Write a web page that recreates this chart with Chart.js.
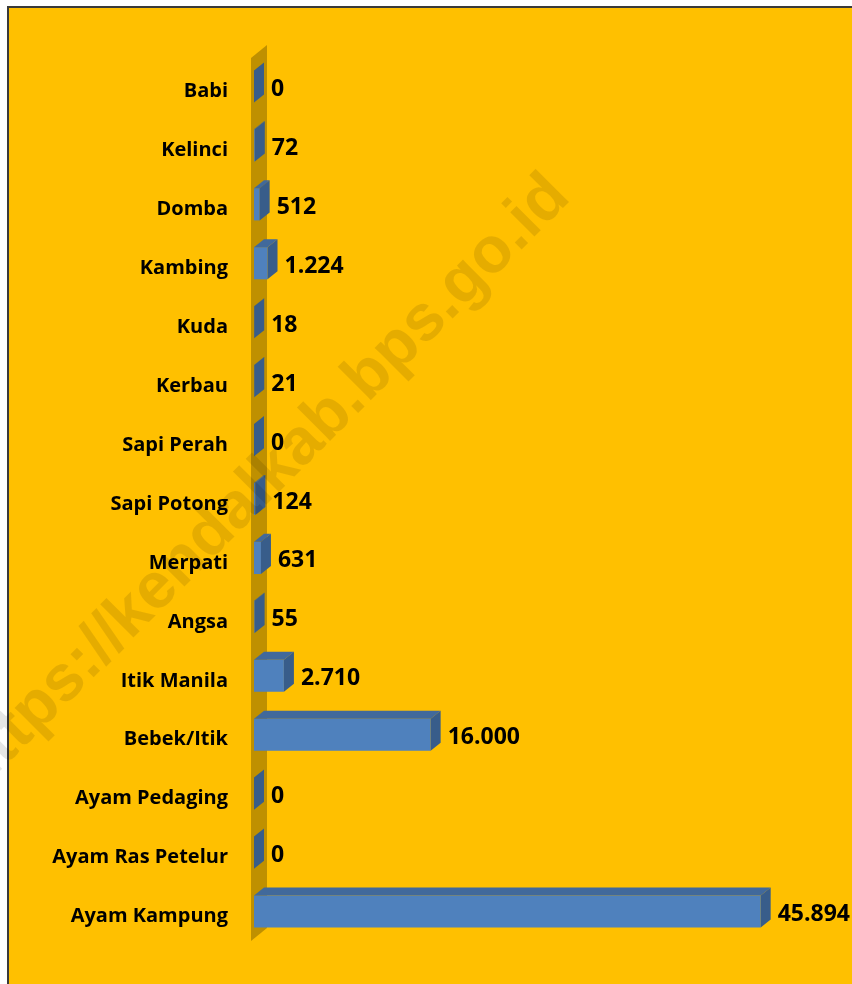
<!DOCTYPE html>
<html>
<head>
<meta charset="utf-8">
<script src="https://cdn.jsdelivr.net/npm/chart.js@4/dist/chart.umd.min.js"></script>
<style>
  html, body { margin: 0; padding: 0; background: #fff; }
  #wrap { width: 852px; height: 984px; }
</style>
</head>
<body>
<div id="wrap"><canvas id="mychart" width="852" height="984"></canvas></div>
<script>
const categories = [
  'Babi', 'Kelinci', 'Domba', 'Kambing', 'Kuda', 'Kerbau', 'Sapi Perah',
  'Sapi Potong', 'Merpati', 'Angsa', 'Itik Manila', 'Bebek/Itik',
  'Ayam Pedaging', 'Ayam Ras Petelur', 'Ayam Kampung'
]
const populasi = [0, 72, 512, 1224, 18, 21, 0, 124, 631, 55, 2710, 16000, 0, 0, 45894]
const watermark = 'https://kendalkab.bps.go.id'

const orange = '#FFC000'
const wallColor = '#BF9000'
const frontColor = '#4F81BD'
const topColor = '#41699B'
const sideColor = '#385D8A'
const depth = { x: 10, y: -8 }

const fmt = (v) => String(v).replace(/\B(?=(\d{3})+(?!\d))/g, '.')

const backgroundPlugin = {
  id: 'background',
  beforeDraw(chart) {
    const { ctx, width, height } = chart
    ctx.save()
    ctx.fillStyle = '#fff'
    ctx.fillRect(0, 0, width, height)
    ctx.fillStyle = '#3a3a3a'
    ctx.fillRect(7, 6, width, height)
    ctx.fillStyle = orange
    ctx.fillRect(9, 8, width, height)
    ctx.restore()
  },
  beforeDatasetsDraw(chart) {
    // side wall behind the bars
    const { ctx, chartArea } = chart
    const l = chartArea.left - 3
    ctx.save()
    ctx.fillStyle = wallColor
    ctx.beginPath()
    ctx.moveTo(l, chartArea.top + 1)
    ctx.lineTo(l + 16, chartArea.top - 12)
    ctx.lineTo(l + 16, chartArea.bottom - 13)
    ctx.lineTo(l, chartArea.bottom)
    ctx.closePath()
    ctx.fill()
    ctx.restore()
  },
  afterDatasetsDraw(chart) {
    const { ctx } = chart
    const meta = chart.getDatasetMeta(0)
    ctx.save()
    meta.data.forEach((bar, i) => {
      const { x, y, base, height } = bar.getProps(['x', 'y', 'base', 'height'], true)
      const top = y - height / 2
      const bottom = y + height / 2

      ctx.fillStyle = topColor
      ctx.beginPath()
      ctx.moveTo(base, top)
      ctx.lineTo(x, top)
      ctx.lineTo(x + depth.x, top + depth.y)
      ctx.lineTo(base + depth.x, top + depth.y)
      ctx.closePath()
      ctx.fill()

      ctx.fillStyle = sideColor
      ctx.beginPath()
      ctx.moveTo(x, top)
      ctx.lineTo(x + depth.x, top + depth.y)
      ctx.lineTo(x + depth.x, bottom + depth.y)
      ctx.lineTo(x, bottom)
      ctx.closePath()
      ctx.fill()

      ctx.fillStyle = '#000'
      ctx.font = 'bold 23px "Open Sans"'
      ctx.textAlign = 'left'
      ctx.textBaseline = 'middle'
      ctx.fillText(fmt(populasi[i]), x + 17, y + 3)
    })
    ctx.restore()
  },
  afterDraw(chart) {
    const { ctx } = chart
    ctx.save()
    ctx.translate(572, 199)
    ctx.rotate(-Math.PI / 4)
    ctx.font = 'bold 65px "Liberation Sans"'
    ctx.fillStyle = 'rgba(0,0,0,0.1)'
    ctx.textAlign = 'right'
    ctx.textBaseline = 'alphabetic'
    ctx.fillText(watermark, 0, 0)
    ctx.restore()
  }
}

const ctx = document.getElementById('mychart').getContext('2d')

new Chart(ctx, {
  type: 'bar',
  data: {
    labels: categories,
    datasets: [{
      label: 'Populasi',
      data: populasi,
      backgroundColor: frontColor,
      borderWidth: 0,
      categoryPercentage: 1,
      barPercentage: 0.545
    }]
  },
  options: {
    indexAxis: 'y',
    responsive: false,
    animation: false,
    layout: { padding: { left: 8, right: 46, top: 57, bottom: 43 } },
    plugins: {
      legend: { display: false },
      tooltip: { enabled: false }
    },
    scales: {
      x: {
        display: false,
        min: 0,
        max: 50000
      },
      y: {
        afterFit(scale) { scale.width = 246 },
        grid: { display: false, drawTicks: false },
        border: { display: false },
        ticks: {
          color: '#000',
          padding: 26,
          labelOffset: 5,
          font: { family: '"Open Sans"', size: 20, weight: 'bold' }
        }
      }
    }
  },
  plugins: [backgroundPlugin]
})
</script>
</body>
</html>
